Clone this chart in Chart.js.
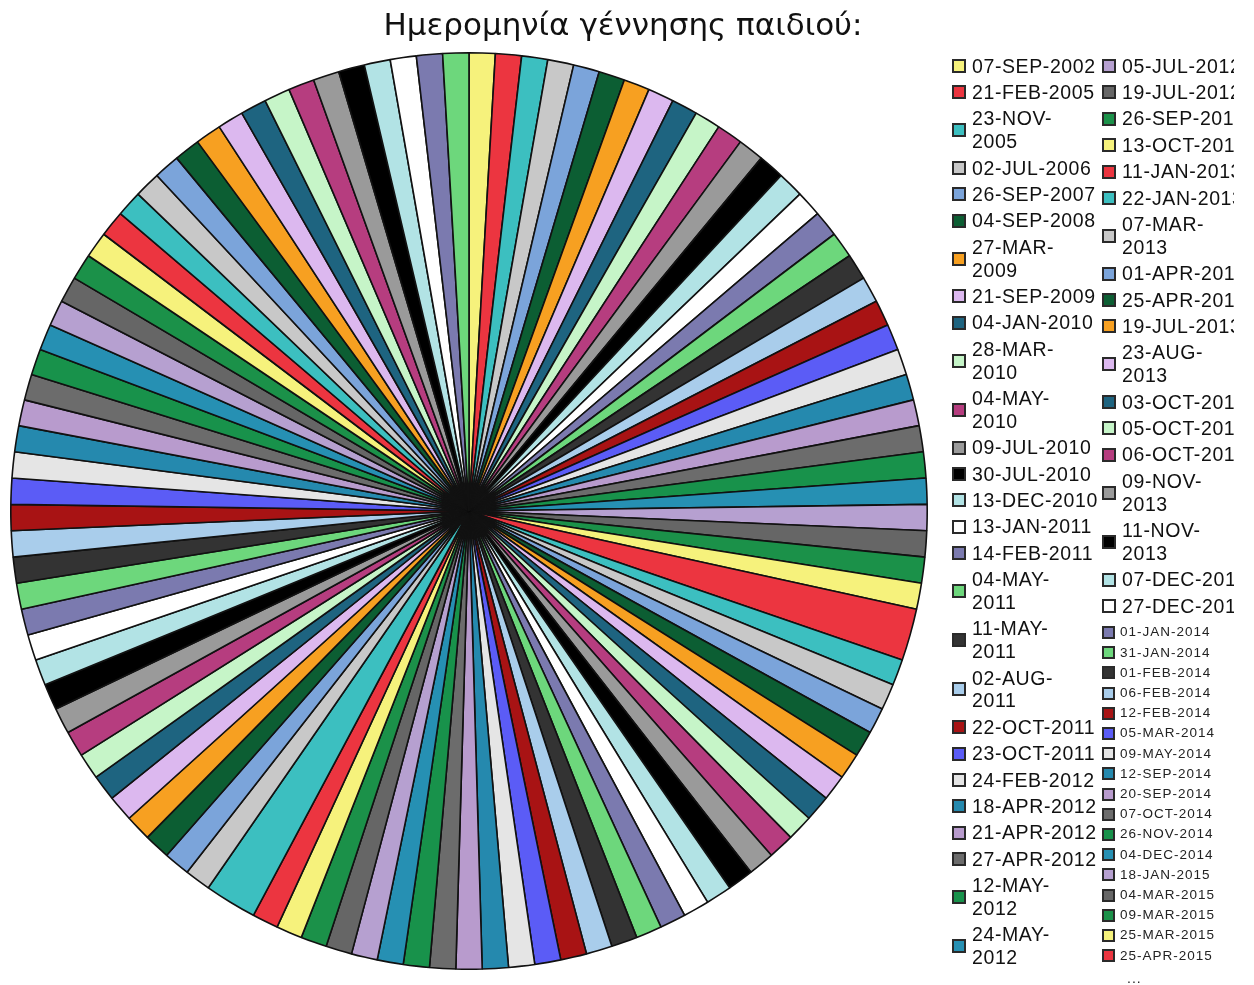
<!DOCTYPE html>
<html>
<head>
<meta charset="utf-8">
<title>Ημερομηνία γέννησης παιδιού</title>
<script src="https://cdn.jsdelivr.net/npm/chart.js@4.4.1/dist/chart.umd.min.js"></script>
<style>
  html, body { margin: 0; padding: 0; background: #ffffff; }
  #wrap { position: relative; width: 1254px; height: 985px; overflow: hidden;
          font-family: Arial, "Liberation Sans", sans-serif; color: #111; }
  #pie { position: absolute; left: 0; top: 0; }
  #title { position: absolute; top: 5px; left: 0; width: 1246px; text-align: center;
           font-family: "DejaVu Sans", sans-serif; font-size: 31px; line-height: 38px;
           color: #111; white-space: nowrap; }
  .lg { position: absolute; display: flex; align-items: center; white-space: pre; overflow: hidden; }
  .lg .sw { flex: none; box-sizing: border-box; width: 14px; height: 14px;
            border: 2px solid #2a2a2a; margin-right: 6px; }
  .lg.big { font-size: 19.5px; line-height: 22.8px; letter-spacing: 0.6px; }
  .lg.small { font-size: 13.5px; line-height: 18px; letter-spacing: 1px; color: #222; }
  .lg.small .sw { width: 13px; height: 13px; margin-right: 5px; }
  #more { position: absolute; font-size: 14px; line-height: 18px; letter-spacing: 1px; color: #222; }
</style>
</head>
<body>
<div id="wrap">
  <canvas id="pie" width="1254" height="985"></canvas>
  <div id="title">Ημερομηνία γέννησης παιδιού:</div>
  <div id="legend"></div>
</div>
<script>
// Birth dates (one slice per date), in chart order
const birthDates = [
  "07-SEP-2002","21-FEB-2005","23-NOV-2005","02-JUL-2006","26-SEP-2007","04-SEP-2008",
  "27-MAR-2009","21-SEP-2009","04-JAN-2010","28-MAR-2010","04-MAY-2010","09-JUL-2010",
  "30-JUL-2010","13-DEC-2010","13-JAN-2011","14-FEB-2011","04-MAY-2011","11-MAY-2011",
  "02-AUG-2011","22-OCT-2011","23-OCT-2011","24-FEB-2012","18-APR-2012","21-APR-2012",
  "27-APR-2012","12-MAY-2012","24-MAY-2012","05-JUL-2012","19-JUL-2012","26-SEP-2012",
  "13-OCT-2012","11-JAN-2013","22-JAN-2013","07-MAR-2013","01-APR-2013","25-APR-2013",
  "19-JUL-2013","23-AUG-2013","03-OCT-2013","05-OCT-2013","06-OCT-2013","09-NOV-2013",
  "11-NOV-2013","07-DEC-2013","27-DEC-2013","01-JAN-2014","31-JAN-2014","01-FEB-2014",
  "06-FEB-2014","12-FEB-2014","05-MAR-2014","09-MAY-2014","12-SEP-2014","20-SEP-2014",
  "07-OCT-2014","26-NOV-2014","04-DEC-2014","18-JAN-2015","04-MAR-2015","09-MAR-2015",
  "25-MAR-2015","25-APR-2015","02-MAY-2015","16-MAY-2015","29-MAY-2015","11-JUN-2015",
  "03-JUL-2015","21-JUL-2015","14-AUG-2015","30-AUG-2015","19-SEP-2015","08-OCT-2015",
  "27-OCT-2015","15-NOV-2015","06-DEC-2015","22-DEC-2015","12-JAN-2016","03-FEB-2016",
  "25-FEB-2016","17-MAR-2016","06-APR-2016","28-APR-2016","19-MAY-2016","09-JUN-2016",
  "01-JUL-2016","26-JUL-2016","16-AUG-2016","07-SEP-2016","29-SEP-2016","20-OCT-2016",
  "11-NOV-2016","02-DEC-2016","23-DEC-2016","14-JAN-2017","06-FEB-2017","27-FEB-2017",
  "21-MAR-2017","11-APR-2017","04-MAY-2017","26-MAY-2017","16-JUN-2017","08-JUL-2017",
  "31-JUL-2017","22-AUG-2017","13-SEP-2017","05-OCT-2017","27-OCT-2017"
];

// Number of children born on each date
const childCounts = [
  1,1,1,1,1,1, 1,1,1,1,1,1, 1,1,1,1,1,1, 1,1,1,1,1,1,
  1,1,1,1,1,1, 1,2,1,1,1,1, 1,1,1,1,1,1, 1,1,1,1,1,1,
  1,1,1,1,1,1, 1,1,1,1,1,1, 1,1,2,1,1,1, 1,1,1,1,1,1,
  1,1,1,1,1,1, 1,1,1,1,1,1, 1,1,1,1,1,1, 1,1,1,1,1,1,
  1,1,1,1,1,1, 1,1,1,1,1
];

// Repeating 30-colour slice palette
const slicePalette = [
  "#f6f27c","#ec3540","#3cbfc0","#c8c8c8","#7ba4da","#0c5e33",
  "#f7a021","#dcb8ef","#1e6480","#c6f5c8","#b63d7f","#9a9a9a",
  "#000000","#b2e3e5","#ffffff","#7b7aaf","#6dd77c","#333333",
  "#a9cdeb","#a81314","#5b5cf6","#e5e5e5","#2589ae","#b89bcd",
  "#6c6c6c","#18924b","#2690b3","#b6a0d0","#666666","#1b9149"
];

// Legend layout: two columns, a few labels wrapped after the month
const legendLayout = {
  shown: 62,
  top: 66, rowStep: 26.4, wrapStep: 22.8, smallStep: 20.2,
  smallFrom: 45,
  wrapped: [2, 6, 9, 10, 16, 17, 18, 25, 26, 33, 37, 41, 42],
  columns: [
    { from: 0,  to: 26, x: 952,  width: 200 },
    { from: 27, to: 61, x: 1102, width: 132 }
  ]
};

const htmlLegend = {
  id: 'htmlLegend',
  afterUpdate(chart) {
    const host = document.getElementById('legend');
    host.innerHTML = '';
    const items = chart.options.plugins.legend.labels.generateLabels(chart);
    const L = legendLayout;
    for (const col of L.columns) {
      let y = L.top;
      for (let i = col.from; i <= col.to && i < L.shown; i++) {
        const item = items[i];
        const small = i >= L.smallFrom;
        const wrap = L.wrapped.includes(i);
        const text = wrap ? item.text.replace(/^(\d\d-[A-Z]{3}-)/, '$1\n') : item.text;
        const lineH = small ? 18 : L.wrapStep;
        const h = wrap ? 2 * lineH : lineH;
        const centre = wrap ? y + L.wrapStep / 2 : y;
        const el = document.createElement('div');
        el.className = 'lg ' + (small ? 'small' : 'big');
        el.style.left = col.x + 'px';
        el.style.top = (centre - h / 2) + 'px';
        el.style.height = h + 'px';
        el.style.width = col.width + 'px';
        const sw = document.createElement('span');
        sw.className = 'sw';
        sw.style.background = item.fillStyle;
        const tx = document.createElement('span');
        tx.textContent = text;
        el.appendChild(sw);
        el.appendChild(tx);
        host.appendChild(el);
        const lastLine = y + (wrap ? L.wrapStep : 0);
        y = lastLine + (i >= L.smallFrom ? L.smallStep : L.rowStep);
      }
      if (col === L.columns[L.columns.length - 1] && items.length > L.shown) {
        const more = document.createElement('div');
        more.id = 'more';
        more.textContent = '...';
        more.style.left = (col.x + 25) + 'px';
        more.style.top = (y - 7) + 'px';
        host.appendChild(more);
      }
    }
  }
};

new Chart(document.getElementById('pie'), {
  type: 'pie',
  data: {
    labels: birthDates,
    datasets: [{
      data: childCounts,
      backgroundColor: childCounts.map((_, i) => slicePalette[i % slicePalette.length]),
      borderColor: '#111111',
      borderWidth: 1.6
    }]
  },
  options: {
    responsive: false,
    animation: false,
    layout: { padding: { left: 10, top: 52, right: 326, bottom: 15 } },
    plugins: {
      legend: { display: false },
      title: { display: false },
      tooltip: { enabled: false }
    }
  },
  plugins: [htmlLegend]
});
</script>
</body>
</html>
